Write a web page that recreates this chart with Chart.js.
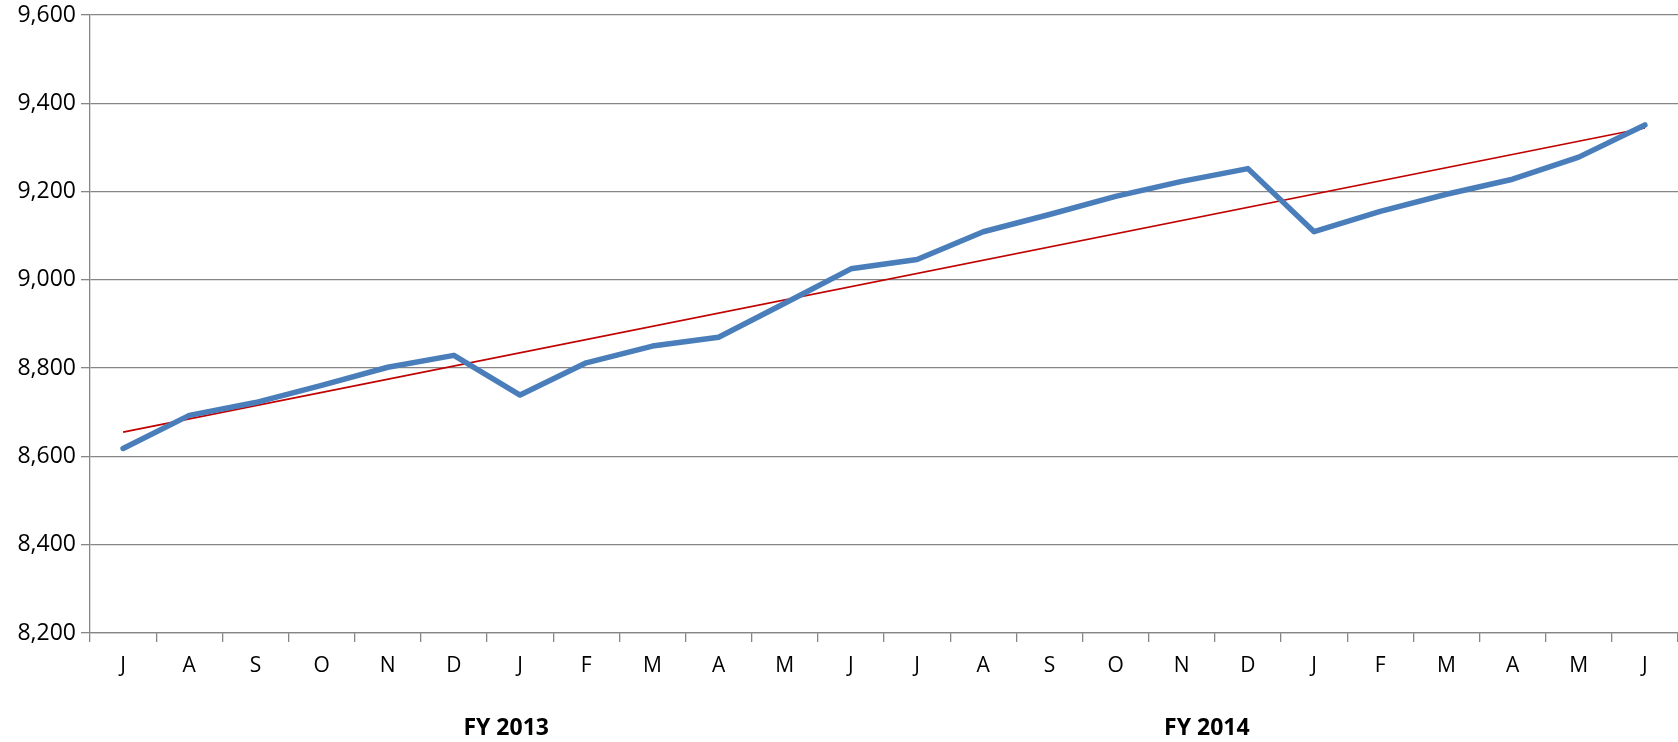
<!DOCTYPE html>
<html>
<head>
<meta charset="utf-8">
<script src="https://cdn.jsdelivr.net/npm/chart.js@4/dist/chart.umd.min.js"></script>
<style>
  body { margin: 0; background: #fff; }
  #wrap { width: 1678px; height: 742px; }
</style>
</head>
<body>
<div id="wrap"><canvas id="myChart"></canvas></div>
<script>
var months = ['J', 'A', 'S', 'O', 'N', 'D', 'J', 'F', 'M', 'A', 'M', 'J',
              'J', 'A', 'S', 'O', 'N', 'D', 'J', 'F', 'M', 'A', 'M', 'J'];
var values = [8618, 8693, 8722, 8761, 8802, 8829, 8739, 8812, 8850, 8870, 8947, 9025,
              9046, 9109, 9148, 9189, 9223, 9252, 9109, 9155, 9194, 9228, 9278, 9351];
// trend line read at its two ends
var trend = [8655, null, null, null, null, null, null, null, null, null, null, null,
             null, null, null, null, null, null, null, null, null, null, null, 9344];
var yearLabels = ['FY 2013', 'FY 2014'];
var yearPos = [5.79, 16.38];

var fyPlugin = {
    id: 'fyLabels',
    afterDraw: function (chart) {
        var ctx = chart.ctx;
        var xs = chart.scales.x;
        var x0 = xs.getPixelForValue(0);
        var step = xs.getPixelForValue(1) - x0;
        ctx.save();
        ctx.font = 'bold 23px "Open Sans"';
        ctx.fillStyle = '#000';
        ctx.textAlign = 'center';
        ctx.textBaseline = 'middle';
        yearLabels.forEach(function (t, i) {
            ctx.fillText(t, x0 + yearPos[i] * step, 728);
        });
        ctx.restore();
    }
};

var ctx = document.getElementById('myChart').getContext('2d');
var myChart = new Chart(ctx, {
    type: 'line',
    data: {
        labels: months,
        datasets: [{
            data: values,
            borderColor: '#4a7ebb',
            borderWidth: 5.5,
            pointRadius: 0,
            tension: 0,
            borderCapStyle: 'round',
            borderJoinStyle: 'round'
        }, {
            data: trend,
            borderColor: '#c00000',
            borderWidth: 1.6,
            pointRadius: 0,
            spanGaps: true
        }]
    },
    options: {
        responsive: true,
        maintainAspectRatio: false,
        animation: false,
        layout: { padding: { top: 15, right: 0, bottom: 0, left: 0 } },
        plugins: {
            legend: { display: false },
            tooltip: { enabled: false }
        },
        scales: {
            x: {
                offset: true,
                grid: {
                    offset: true,
                    drawOnChartArea: false,
                    drawTicks: true,
                    tickLength: 9,
                    color: '#868686',
                    lineWidth: 1.3
                },
                border: { color: '#868686', width: 1.3 },
                ticks: {
                    color: '#000',
                    font: { family: 'Open Sans', size: 21 },
                    padding: 11,
                    maxRotation: 0,
                    autoSkip: false
                },
                afterFit: function (s) { s.height = 109; }
            },
            y: {
                min: 8200,
                max: 9600,
                grid: {
                    color: '#868686',
                    lineWidth: 1.3,
                    tickLength: 9
                },
                border: { color: '#868686', width: 1.3 },
                ticks: {
                    stepSize: 200,
                    color: '#000',
                    font: { family: 'Open Sans', size: 23 },
                    padding: 5,
                    callback: function (v) { return v.toLocaleString('en-US'); }
                },
                afterFit: function (s) {
                    s.width = 90;
                    s.paddingTop = 0;
                    s.paddingBottom = 0;
                }
            }
        }
    },
    plugins: [fyPlugin]
});
</script>
</body>
</html>
